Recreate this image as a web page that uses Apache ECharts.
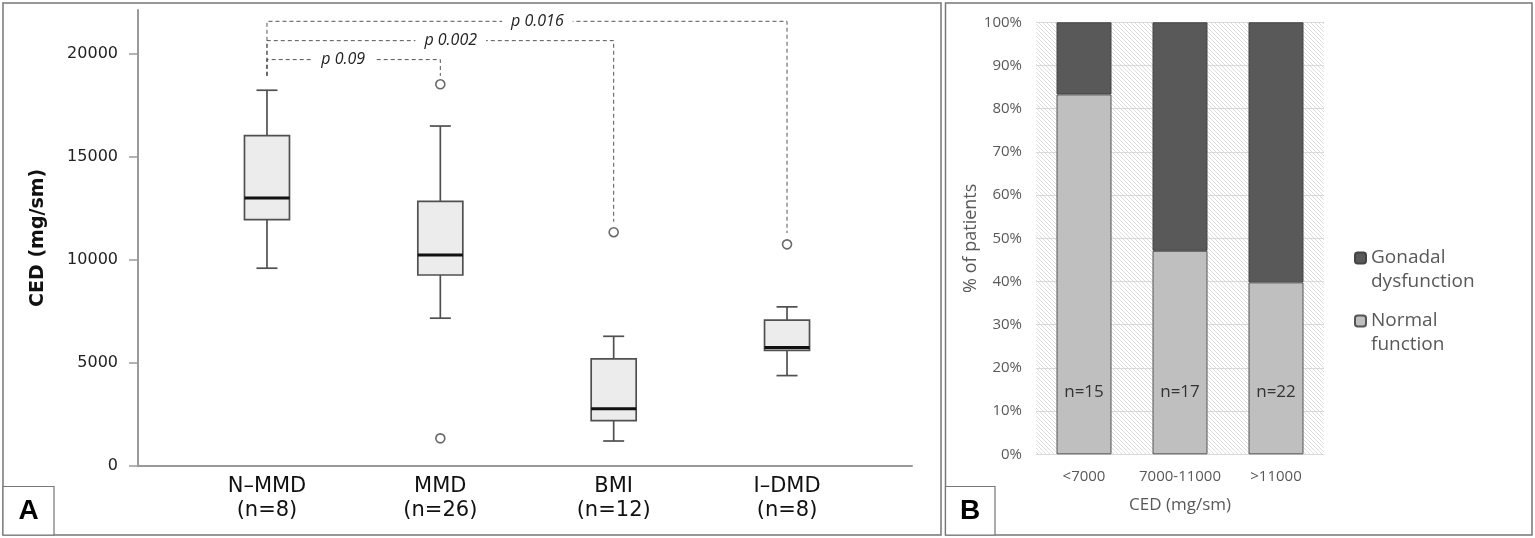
<!DOCTYPE html>
<html>
<head>
<meta charset="utf-8">
<script src="https://cdn.jsdelivr.net/npm/echarts@6/dist/echarts.min.js"></script>
<style>
html,body{margin:0;padding:0;background:#fff;}
#chart{width:1535px;height:538px;}
</style>
</head>
<body>
<div id="chart"></div>
<script>
// ---------- Panel A data ----------
const groupNames = ['N–MMD', 'MMD', 'BMI', 'I–DMD'];
const groupN = [8, 26, 12, 8];
const whiskerLow = [9600, 7170, 1200, 4380];
const q1 = [11960, 9270, 2190, 5610];
const median = [13010, 10240, 2770, 5740];
const q3 = [16040, 12850, 5190, 7080];
const whiskerHigh = [18250, 16510, 6290, 7720];
const outlierGroup = [1, 1, 2, 3];
const outlierValue = [18540, 1330, 11350, 10760];
const yTicksA = [0, 5000, 10000, 15000, 20000];
const bracketFrom = [0, 0, 0];
const bracketTo = [1, 2, 3];
const bracketLabel = ['p 0.09', 'p 0.002', 'p 0.016'];
const bracketLevel = [19740, 20660, 21600];
const bracketDrop = [18950, 11860, 11310];
const bracketLeftDrop = 18950;

// ---------- Panel B data ----------
const cedGroups = ['<7000', '7000-11000', '>11000'];
const cedN = [15, 17, 22];
const normalPct = [83.3, 47.1, 39.8];
const dysPct = [16.7, 52.9, 60.2];
const yTicksBMax = 100;

// style: where along each bracket its p label sits (fraction of span)
const LABEL_FRAC = [0.44, 0.53, 0.52];

// hatch pattern
function hatch() {
  const s = 4;
  const c = document.createElement('canvas');
  c.width = s; c.height = s;
  const g = c.getContext('2d');
  g.fillStyle = '#fff'; g.fillRect(0, 0, s, s);
  g.strokeStyle = '#dadada'; g.lineWidth = 0.9;
  g.beginPath();
  g.moveTo(-1, -1); g.lineTo(s + 1, s + 1);
  g.moveTo(-1, s - 1); g.lineTo(1, s + 1);
  g.moveTo(s - 1, -1); g.lineTo(s + 1, 1);
  g.stroke();
  return c;
}

const chart = echarts.init(document.getElementById('chart'));
const YMAX_A = 22150;

const boxData = groupNames.map((_, i) => [i, whiskerLow[i], q1[i], median[i], q3[i], whiskerHigh[i]]);
const outData = outlierGroup.map((g, i) => [g, outlierValue[i]]);
const bracketData = bracketTo.map((t, i) => [bracketFrom[i], t, bracketLevel[i], bracketDrop[i], bracketLeftDrop, i]);

const option = {
  animation: false,
  backgroundColor: '#fff',
  grid: [
    { left: 180.3, top: 10, width: 693.4, height: 455.7, outerBoundsMode: 'none', containLabel: false },
    { left: 138, top: 10, width: 774, height: 455.7, outerBoundsMode: 'none', containLabel: false },
    { left: 1036, top: 22.3, width: 288, height: 432, outerBoundsMode: 'none', containLabel: false,
      show: true, borderWidth: 0, backgroundColor: { image: hatch(), repeat: 'repeat' } }
  ],
  xAxis: [
    { type: 'category', gridIndex: 0, data: groupNames.map((n, i) => n + '\n(n=' + groupN[i] + ')'),
      boundaryGap: true, axisLine: { show: false }, axisTick: { show: false },
      axisLabel: { margin: 9, fontSize: 21, lineHeight: 24, color: '#111', fontFamily: 'DejaVu Sans' } },
    { type: 'value', gridIndex: 1, min: 0, max: 1, axisLine: { show: true, lineStyle: { color: '#9a9a9a', width: 2 } },
      axisTick: { show: false }, axisLabel: { show: false }, splitLine: { show: false } },
    { type: 'category', gridIndex: 2, data: cedGroups,
      axisLine: { show: true, lineStyle: { color: '#d9d9d9' } }, axisTick: { show: false },
      axisLabel: { interval: 0, margin: 15, fontSize: 15, color: '#595959', fontFamily: 'Open Sans' },
      name: 'CED (mg/sm)', nameLocation: 'middle', nameGap: 42,
      nameTextStyle: { fontSize: 17, color: '#595959', fontFamily: 'Open Sans' } }
  ],
  yAxis: [
    { type: 'value', gridIndex: 0, min: 0, max: YMAX_A, show: false, splitLine: { show: false } },
    { type: 'value', gridIndex: 1, min: 0, max: YMAX_A, interval: 5000,
      axisLine: { show: true, lineStyle: { color: '#9a9a9a', width: 2 } },
      axisTick: { show: true, length: 9, customValues: yTicksA, lineStyle: { color: '#9a9a9a', width: 1.5 } },
      axisLabel: { customValues: yTicksA, formatter: v => String(v), margin: 20, fontSize: 16, color: '#222', fontFamily: 'DejaVu Sans' },
      splitLine: { show: false },
      name: 'CED (mg/sm)', nameLocation: 'middle', nameGap: 90,
      nameTextStyle: { fontSize: 19, fontWeight: 'bold', color: '#111', fontFamily: 'DejaVu Sans' } },
    { type: 'value', gridIndex: 2, min: 0, max: yTicksBMax, interval: 10,
      axisLine: { show: false }, axisTick: { show: false },
      axisLabel: { formatter: '{value}%', margin: 14, fontSize: 15, color: '#595959', fontFamily: 'Open Sans' },
      splitLine: { show: true, lineStyle: { color: '#d9d9d9', width: 1 } },
      name: '% of patients', nameLocation: 'middle', nameGap: 56,
      nameTextStyle: { fontSize: 18, color: '#595959', fontFamily: 'Open Sans' } }
  ],
  legend: {
    orient: 'vertical', left: 1349, top: 217, itemWidth: 11, itemHeight: 11, itemGap: -9,
    data: ['Gonadal\ndysfunction', 'Normal\nfunction'],
    formatter: name => ' \n' + name,
    textStyle: { fontSize: 19, lineHeight: 24, color: '#595959', fontFamily: 'Open Sans' },
    selectedMode: false
  },
  series: [
    {
      type: 'custom', xAxisIndex: 0, yAxisIndex: 0, data: boxData,
      encode: { x: 0, y: [1, 2, 3, 4, 5] },
      renderItem: function (params, api) {
        const x = api.value(0);
        const lo = api.coord([x, api.value(1)]);
        const a = api.coord([x, api.value(2)]);
        const m = api.coord([x, api.value(3)]);
        const b = api.coord([x, api.value(4)]);
        const hi = api.coord([x, api.value(5)]);
        const cx = lo[0], bw = 22.5, cw = 10.5;
        const ls = { stroke: '#505050', lineWidth: 1.7 };
        return { type: 'group', children: [
          { type: 'line', shape: { x1: cx, y1: hi[1], x2: cx, y2: b[1] }, style: ls },
          { type: 'line', shape: { x1: cx, y1: a[1], x2: cx, y2: lo[1] }, style: ls },
          { type: 'line', shape: { x1: cx - cw, y1: hi[1], x2: cx + cw, y2: hi[1] }, style: ls },
          { type: 'line', shape: { x1: cx - cw, y1: lo[1], x2: cx + cw, y2: lo[1] }, style: ls },
          { type: 'rect', shape: { x: cx - bw, y: b[1], width: 2 * bw, height: a[1] - b[1] },
            style: { fill: '#ececec', stroke: '#505050', lineWidth: 1.7 } },
          { type: 'line', shape: { x1: cx - bw, y1: m[1], x2: cx + bw, y2: m[1] }, style: { stroke: '#111', lineWidth: 3 } }
        ] };
      }
    },
    {
      type: 'scatter', xAxisIndex: 0, yAxisIndex: 0, data: outData, symbol: 'circle', symbolSize: 9,
      itemStyle: { color: '#fff', borderColor: '#444', borderWidth: 1.6 }
    },
    {
      type: 'custom', xAxisIndex: 0, yAxisIndex: 0, data: bracketData, clip: false, z: 5,
      encode: { x: [0, 1], y: [2, 3, 4] },
      renderItem: function (params, api) {
        const f = api.value(0), t = api.value(1);
        const lvl = api.value(2), drop = api.value(3), ldrop = api.value(4);
        const idx = api.value(5);
        const p0 = api.coord([f, ldrop]);
        const p1 = api.coord([f, lvl]);
        const p2 = api.coord([t, lvl]);
        const p3 = api.coord([t, drop]);
        const fr = LABEL_FRAC[idx];
        const dash = { stroke: '#555', lineWidth: 1, lineDash: [4, 3], fill: null };
        return { type: 'group', children: [
          { type: 'polyline', shape: { points: [p0, p1, p2, p3] }, style: dash },
          { type: 'text', x: p1[0] + (p2[0] - p1[0]) * fr, y: p1[1], z2: 10,
            style: { text: bracketLabel[idx], font: 'italic 16px "Open Sans"', fill: '#222',
              align: 'center', verticalAlign: 'middle', backgroundColor: '#fff', padding: [0, 9] } }
        ] };
      }
    },
    {
      name: 'Normal\nfunction', type: 'bar', xAxisIndex: 2, yAxisIndex: 2, stack: 'b', barWidth: 55,
      data: normalPct,
      itemStyle: { color: '#bfbfbf', borderColor: '#555', borderWidth: 1 },
      label: { show: true, position: 'insideBottom', distance: 54,
        formatter: p => 'n=' + cedN[p.dataIndex], fontSize: 17, color: '#333', fontFamily: 'Open Sans' }
    },
    {
      name: 'Gonadal\ndysfunction', type: 'bar', xAxisIndex: 2, yAxisIndex: 2, stack: 'b', barWidth: 55,
      data: dysPct,
      itemStyle: { color: '#595959', borderColor: '#444', borderWidth: 1 }
    }
  ],
  graphic: [
    { type: 'rect', shape: { x: 3, y: 3, width: 938, height: 532 }, style: { fill: null, stroke: '#777', lineWidth: 1.5 }, z: 100 },
    { type: 'rect', shape: { x: 945.5, y: 3, width: 586.5, height: 532 }, style: { fill: null, stroke: '#777', lineWidth: 1.5 }, z: 100 },
    { type: 'rect', shape: { x: 3, y: 486.5, width: 51, height: 48.5 }, style: { fill: '#fff', stroke: '#777', lineWidth: 1.2 }, z: 100 },
    { type: 'rect', shape: { x: 945.5, y: 486.5, width: 49.5, height: 48.5 }, style: { fill: '#fff', stroke: '#777', lineWidth: 1.2 }, z: 100 },
    { type: 'text', x: 28.5, y: 511, z: 101, style: { text: 'A', font: 'bold 28px "Liberation Sans"', fill: '#000', align: 'center', verticalAlign: 'middle' } },
    { type: 'text', x: 970, y: 511, z: 101, style: { text: 'B', font: 'bold 28px "Liberation Sans"', fill: '#000', align: 'center', verticalAlign: 'middle' } }
  ]
};
chart.setOption(option);
</script>
</body>
</html>
